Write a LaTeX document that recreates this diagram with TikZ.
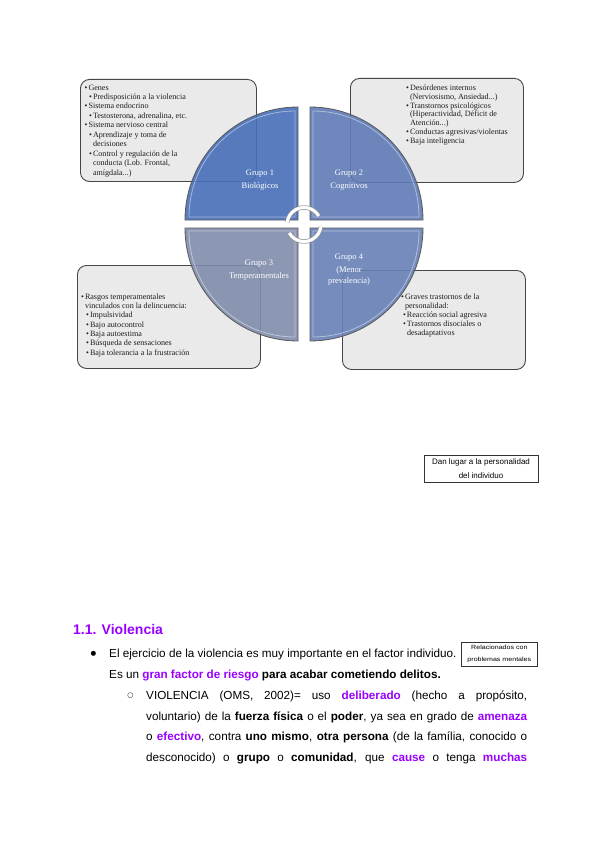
\documentclass[tikz,border=0pt]{standalone}
\usepackage{fontspec}
\usepackage{graphicx}
\setmainfont{Liberation Sans}
\newfontfamily\serifdg{Liberation Serif}
\newfontfamily\symfont{DejaVu Sans}
\definecolor{vpurple}{RGB}{153,0,255}
\definecolor{boxfill}{RGB}{234,234,234}
\definecolor{boxborder}{RGB}{70,70,70}
\definecolor{qone}{RGB}{72,110,183}
\definecolor{qtwo}{RGB}{95,123,181}
\definecolor{qthree}{RGB}{128,140,171}
\definecolor{qfour}{RGB}{103,128,182}
\definecolor{dgtext}{RGB}{30,30,30}
\newcommand\pb[1]{\textbf{\textcolor{vpurple}{#1}}}
\newcommand\bl[2]{\hspace*{#1}\makebox[3.8pt][l]{\textbullet}#2}
\newcommand\cl[2]{\hspace*{#1}\hspace*{3.8pt}#2}
\newcommand\wide[1]{\scalebox{1.18}[1]{#1}}
\begin{document}
\begin{tikzpicture}[x=1pt,y=-1pt,
  infobox/.style={draw=boxborder, fill=boxfill, rounded corners=9pt, line width=0.9pt, minimum width=#1, anchor=north west, inner sep=0pt},
  boxtext/.style={anchor=north west, inner sep=0pt, align=left, text=dgtext, font=\serifdg\fontsize{8.1}{#1}\selectfont},
  quad/.style={fill=#1, fill opacity=0.9, draw=boxborder!90, line width=0.8pt},
  hilite/.style={draw=white, draw opacity=0.45, line width=0.8pt},
  qlabel/.style={text=white, align=center, font=\serifdg\fontsize{8.5}{13}\selectfont, inner sep=0pt},
  cyc/.style={draw=gray!80, line width=0.7pt, double=white, double distance=3pt},
  body/.style={anchor=base west, inner sep=0pt, font=\fontsize{11.7}{13}\selectfont},
  smallbox/.style={draw=black!80, line width=0.7pt, align=center, inner sep=0pt}]
\useasboundingbox (0,0) rectangle (599,848);
\fill[white] (0,0) rectangle (599,848);

% info boxes
\node[infobox=176, minimum height=102] (box1) at (80,79) {};
\node[infobox=173, minimum height=104] (box2) at (350,78) {};
\node[infobox=183, minimum height=103] (box3) at (77,265) {};
\node[infobox=183, minimum height=99] (box4) at (342,270) {};

\node[boxtext=9.45] (t1) at (84.5,84.5) {%
\bl{0pt}{Genes}\\
\bl{4.5pt}{Predisposición a la violencia}\\
\bl{0pt}{Sistema endocrino}\\
\bl{4.5pt}{Testosterona, adrenalina, etc.}\\
\bl{0pt}{Sistema nervioso central}\\
\bl{4.5pt}{Aprendizaje y toma de}\\
\cl{4.5pt}{decisiones}\\
\bl{4.5pt}{Control y regulación de la}\\
\cl{4.5pt}{conducta (Lob. Frontal,}\\
\cl{4.5pt}{amígdala...)}};

\node[boxtext=8.85] (t2) at (406,84.5) {%
\bl{0pt}{Desórdenes internos}\\
\cl{0pt}{(Nerviosismo, Ansiedad...)}\\
\bl{0pt}{Transtornos psicológicos}\\
\cl{0pt}{(Hiperactividad, Déficit de}\\
\cl{0pt}{Atención...)}\\
\bl{0pt}{Conductas agresivas/violentas}\\
\bl{0pt}{Baja inteligencia}};

\node[boxtext=9.33] (t3) at (81,293.5) {%
\bl{0pt}{Rasgos temperamentales}\\
\cl{0pt}{vinculados con la delincuencia:}\\
\bl{5pt}{Impulsividad}\\
\bl{5pt}{Bajo autocontrol}\\
\bl{5pt}{Baja autoestima}\\
\bl{5pt}{Búsqueda de sensaciones}\\
\bl{5pt}{Baja tolerancia a la frustración}};

\node[boxtext=9] (t4) at (401,293.5) {%
\bl{0pt}{Graves trastornos de la}\\
\cl{0pt}{personalidad:}\\
\bl{2pt}{Reacción social agresiva}\\
\bl{2pt}{Trastornos disociales o}\\
\cl{2pt}{desadaptativos}};

% quadrants
\path[quad=qone] (298,220) -- ++(-113,0) arc[start angle=180, end angle=270, radius=113] -- cycle;
\path[quad=qtwo] (310,220) -- ++(0,-113) arc[start angle=270, end angle=360, radius=113] -- cycle;
\path[quad=qthree] (298,228) -- ++(0,113) arc[start angle=90, end angle=180, radius=113] -- cycle;
\path[quad=qfour] (310,228) -- ++(113,0) arc[start angle=0, end angle=90, radius=113] -- cycle;
\path[hilite] (295,217) -- ++(-106,0) arc[start angle=180, end angle=270, radius=106] -- cycle;
\path[hilite] (313,217) -- ++(0,-106) arc[start angle=270, end angle=360, radius=106] -- cycle;
\path[hilite] (295,231) -- ++(0,106) arc[start angle=90, end angle=180, radius=106] -- cycle;
\path[hilite] (313,231) -- ++(106,0) arc[start angle=0, end angle=90, radius=106] -- cycle;

\node[qlabel] (g1) at (260,180) {Grupo 1\\Biológicos};
\node[qlabel] (g2) at (349,180) {Grupo 2\\Cognitivos};
\node[qlabel] (g3) at (259,270) {Grupo 3\\Temperamentales};
\node[qlabel, font=\serifdg\fontsize{8.5}{10.5}\selectfont] (g4) at (349,269.5) {Grupo 4\\[3pt](Menor\\prevalencia)};

% circular arrows
\coordinate (ctr) at (304,224.5);
\draw[cyc] ([shift={(-30:17)}]ctr) arc[start angle=-30, end angle=-172, radius=17];
\draw[cyc] ([shift={(150:17)}]ctr) arc[start angle=150, end angle=8, radius=17];

% side box
\node[smallbox, minimum width=114, minimum height=27, font=\fontsize{8}{13.5}\selectfont] (dan) at (481,468.5) {Dan lugar a la personalidad\\del individuo};

% text section
\node[body, font=\fontsize{14}{16}\selectfont\bfseries, text=vpurple] (head) at (73,634.5) {1.1. Violencia};
\node[inner sep=0pt, font=\symfont\fontsize{6.5}{8}\selectfont] (b1) at (93.5,653.5) {●};
\node[body] (l1) at (109,657) {El ejercicio de la violencia es muy importante en el factor individuo.};
\node[smallbox, minimum width=76, minimum height=24, font=\fontsize{6}{12.5}\selectfont, anchor=west] (rel) at (461,654) {\wide{Relacionados con}\\\wide{problemas mentales}};
\node[body] (l2) at (109,678) {Es un \pb{gran factor de riesgo} \textbf{para acabar cometiendo delitos.}};
\node[inner sep=0pt, font=\symfont\fontsize{7}{8}\selectfont] (b2) at (130.5,695.5) {○};
\node[body] (l3) at (146,699) {\makebox[381pt][s]{VIOLENCIA (OMS, 2002)= uso \pb{deliberado} (hecho a propósito,}};
\node[body] (l4) at (146,720) {\makebox[381pt][s]{voluntario) de la \textbf{fuerza física} o el \textbf{poder}, ya sea en grado de \pb{amenaza}}};
\node[body] (l5) at (146,740.5) {\makebox[381pt][s]{o \pb{efectivo}, contra \textbf{uno mismo}, \textbf{otra persona} (de la família, conocido o}};
\node[body] (l6) at (146,761) {\makebox[381pt][s]{desconocido) o \textbf{grupo} o \textbf{comunidad}, que \pb{cause} o tenga \pb{muchas}}};
\end{tikzpicture}
\end{document}
